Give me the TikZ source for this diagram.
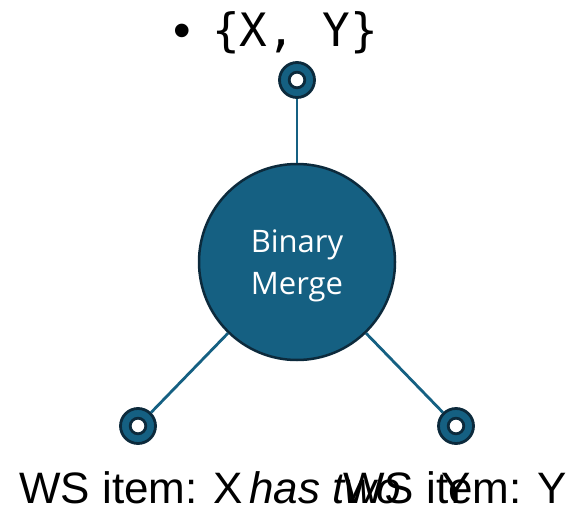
\documentclass[tikz,border=0pt]{standalone}
\usepackage{fontspec}
\setmainfont{Liberation Sans}
\newfontfamily\monofont{DejaVu Sans Mono}
\newfontfamily\mergefont{Open Sans}
\definecolor{teal}{RGB}{21,96,130}
\definecolor{darkedge}{RGB}{12,42,60}
\begin{document}
\begin{tikzpicture}[x=1pt,y=-1pt,
  ring/.style={circle,fill=teal,draw=darkedge,line width=2.8pt,minimum size=35pt,inner sep=0pt},
  hole/.style={fill=white,draw=darkedge,line width=2.8pt},
  link/.style={draw=teal,line width=2.8pt},
  bigtext/.style={font=\fontsize{44}{50}\selectfont,inner sep=0pt,anchor=base west}
]
\useasboundingbox (0,0) rectangle (575,511);
% main circle
\node[circle,fill=teal,draw=darkedge,line width=2.5pt,minimum size=196pt,inner sep=0pt] (merge) at (297,262) {};
\node[text=white,align=center,font=\mergefont\fontsize{31}{42}\selectfont,inner sep=0pt] (mergetext) at (297,266) {Binary\\Merge};
% rings
\node[ring] (ringT) at (297,80) {};
\node[ring] (ringL) at (138,426) {};
\node[ring] (ringR) at (456,426) {};
\foreach \r in {ringT,ringL,ringR}{\draw[hole] (\r) circle (7.8pt);}
% connectors
\draw[link] (ringT) -- (merge);
\draw[link] (ringL) -- (merge);
\draw[link] (ringR) -- (merge);
% top label
\node[font=\fontsize{50}{54}\selectfont,inner sep=0pt,anchor=base] (bullet) at (182,48) {•};
\node[font=\monofont\fontsize{46}{50}\selectfont,inner sep=0pt,anchor=base west] (setlabel) at (212,47) {\{X, Y\}};
% bottom labels
\node[bigtext] (labX) at (19,503) {WS item: X};
\node[bigtext,font=\itshape\fontsize{44}{50}\selectfont] (hastwo) at (249,503) {has two};
\node[bigtext] (labY) at (343,503) {WS item: Y};
\node[bigtext] (extraY) at (441,503) {Y};
\end{tikzpicture}
\end{document}
